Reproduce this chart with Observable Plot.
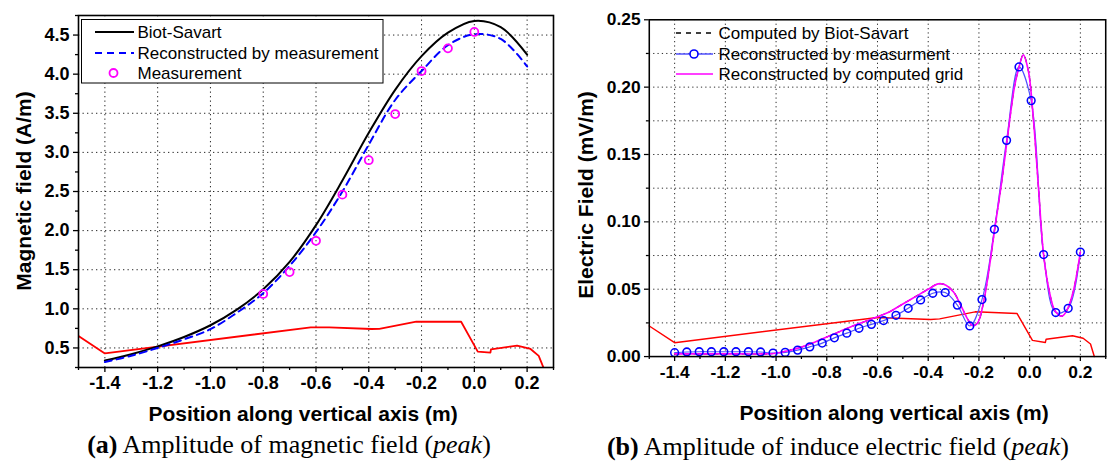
<!DOCTYPE html>
<html><head><meta charset="utf-8">
<script src="https://cdn.jsdelivr.net/npm/d3@7"></script>
<script src="https://cdn.jsdelivr.net/npm/@observablehq/plot@0.6"></script>
<style>
body{margin:0;background:#fff;}
#wrap{position:relative;width:1112px;height:466px;overflow:hidden;background:#fff;font-family:"Liberation Sans",Arial,sans-serif;color:#000;}
.pl{position:absolute;top:0;}
.pl svg text{font-weight:bold;}
.ttl{position:absolute;font-weight:bold;font-size:21px;white-space:nowrap;transform:translate(-50%,-50%);}
.yttl{position:absolute;font-weight:bold;font-size:21px;white-space:nowrap;transform:translate(-50%,-50%) rotate(-90deg);}
.cap{position:absolute;font-family:"Liberation Serif","Times New Roman",serif;font-size:26px;white-space:nowrap;transform:translate(-50%,-50%);}
.leg{position:absolute;left:0;top:0;pointer-events:none;}
.leg text{font-family:"Liberation Sans",Arial,sans-serif;font-size:17px;}
</style>
</head><body>
<div id="wrap">
  <div id="pa" class="pl" style="left:0px"></div>
  <div id="pb" class="pl" style="left:560px"></div>
  <div class="yttl" style="left:24px;top:191px">Magnetic field (A/m)</div>
  <div class="yttl" style="left:586px;top:195px">Electric Field (mV/m)</div>
  <div class="ttl" style="left:303px;top:414px">Position along vertical axis (m)</div>
  <div class="ttl" style="left:894px;top:413px">Position along vertical axis (m)</div>
  <div class="cap" style="left:289px;top:445px"><b>(a)</b> Amplitude of magnetic field (<i>peak</i>)</div>
  <div class="cap" style="left:838px;top:447px"><b>(b)</b> Amplitude of induce electric field (<i>peak</i>)</div>
  <svg class="leg" width="1112" height="466">
    <rect x="81.5" y="19.5" width="301.5" height="63.5" fill="#fff" stroke="#000" stroke-width="1"/>
    <line x1="95" x2="134" y1="32" y2="32" stroke="#000" stroke-width="2"/>
    <text x="137.5" y="38">Biot-Savart</text>
    <line x1="95" x2="134" y1="53" y2="53" stroke="#0000ff" stroke-width="2" stroke-dasharray="7,5"/>
    <text x="137.5" y="59">Reconstructed by measurement</text>
    <circle cx="113.5" cy="73" r="4" fill="none" stroke="#ff00ff" stroke-width="1.8"/>
    <text x="137.5" y="79">Measurement</text>

    <line x1="676" x2="713" y1="33" y2="33" stroke="#000" stroke-width="1.5" stroke-dasharray="5,5"/>
    <text x="718.5" y="39">Computed by Biot-Savart</text>
    <line x1="676" x2="713" y1="54" y2="54" stroke="#5050ff" stroke-width="1.3"/>
    <circle cx="694" cy="54" r="4" fill="#fff" stroke="#0000ff" stroke-width="1.6"/>
    <text x="718.5" y="60">Reconstructed by measurment</text>
    <line x1="676" x2="713" y1="74" y2="74" stroke="#ff00ff" stroke-width="1.6"/>
    <text x="718.5" y="80">Reconstructed by computed grid</text>
  </svg>
</div>
<script>
// ---------- panel (a): magnetic field ----------
const xMajor = [-1.4, -1.2, -1.0, -0.8, -0.6, -0.4, -0.2, 0.0, 0.2];
const xMinor = [-1.5, -1.3, -1.1, -0.9, -0.7, -0.5, -0.3, -0.1, 0.1, 0.3];
const hMajor = [0.5, 1.0, 1.5, 2.0, 2.5, 3.0, 3.5, 4.0, 4.5];
const hMinor = [0.25, 0.75, 1.25, 1.75, 2.25, 2.75, 3.25, 3.75, 4.25, 4.75];

const hPos = [-1.4, -1.3, -1.2, -1.1, -1.0, -0.9, -0.8, -0.7, -0.6, -0.5, -0.4, -0.3, -0.2, -0.1, 0.0, 0.1, 0.2];
const hBiotSavart = [0.34, 0.42, 0.52, 0.64, 0.79, 0.99, 1.25, 1.60, 2.07, 2.64, 3.25, 3.80, 4.23, 4.53, 4.68, 4.60, 4.25];
const hReconstructed = [0.32, 0.40, 0.50, 0.61, 0.74, 0.95, 1.20, 1.55, 1.98, 2.50, 3.10, 3.67, 4.04, 4.37, 4.51, 4.45, 4.10];

const hMeasPos = [-0.8, -0.7, -0.6, -0.5, -0.4, -0.3, -0.2, -0.1, 0.0];
const hMeasured = [1.19, 1.47, 1.87, 2.46, 2.90, 3.49, 4.04, 4.33, 4.54];

const hOutlinePos = [-1.5, -1.4, -0.62, -0.55, -0.39, -0.36, -0.22, -0.05, 0.013, 0.061, 0.063, 0.162, 0.213, 0.244, 0.263];
const hOutline = [0.653, 0.43, 0.764, 0.764, 0.742, 0.745, 0.835, 0.835, 0.453, 0.44, 0.483, 0.53, 0.487, 0.398, 0.24];

// ---------- panel (b): electric field ----------
const eMajor = [0.00, 0.05, 0.10, 0.15, 0.20, 0.25];
const eGrid = [0.025, 0.05, 0.075, 0.10, 0.125, 0.15, 0.175, 0.20, 0.225];
const eMinor = [0.025, 0.075, 0.125, 0.175, 0.225];

const eMeasPos = [-1.4, -1.352, -1.303, -1.255, -1.206, -1.158, -1.109, -1.061, -1.012, -0.964, -0.915, -0.867, -0.818, -0.770, -0.721, -0.673, -0.624, -0.576, -0.527, -0.479, -0.430, -0.382, -0.333, -0.285, -0.236, -0.188, -0.139, -0.091, -0.042, 0.006, 0.055, 0.103, 0.152, 0.2];
const eMeasured = [0.0029, 0.0034, 0.0036, 0.0036, 0.0036, 0.0036, 0.0036, 0.0034, 0.0026, 0.0031, 0.0048, 0.0072, 0.0100, 0.0139, 0.0174, 0.0210, 0.0239, 0.0267, 0.0306, 0.0358, 0.0420, 0.0470, 0.0475, 0.0382, 0.0227, 0.0423, 0.0945, 0.1605, 0.2150, 0.1900, 0.0757, 0.0327, 0.0358, 0.0776];

const eGridPos = [-1.4, -1.2, -1.05, -1.0, -0.95, -0.9, -0.85, -0.8, -0.75, -0.7, -0.65, -0.6, -0.55, -0.5, -0.45, -0.4, -0.36, -0.33, -0.3, -0.27, -0.245, -0.225, -0.205, -0.18, -0.16, -0.136, -0.11, -0.088, -0.06, -0.043, -0.025, -0.005, 0.014, 0.035, 0.055, 0.077, 0.1, 0.128, 0.15, 0.173, 0.2];
const eComputedGrid = [0.002, 0.002, 0.002, 0.0025, 0.0045, 0.007, 0.0105, 0.0145, 0.0185, 0.0225, 0.026, 0.0295, 0.0335, 0.039, 0.0445, 0.050, 0.054, 0.053, 0.048, 0.0375, 0.028, 0.023, 0.025, 0.042, 0.065, 0.097, 0.13, 0.162, 0.20, 0.214, 0.224, 0.212, 0.178, 0.125, 0.0757, 0.049, 0.034, 0.030, 0.0355, 0.049, 0.0776];
const eBiotSavart = eComputedGrid; // hidden under the magenta curve in the figure

const eOutlinePos = [-1.5, -1.4, -0.6, -0.39, -0.355, -0.215, -0.05, 0.011, 0.062, 0.065, 0.169, 0.211, 0.24, 0.255];
const eOutline = [0.0227, 0.0103, 0.029, 0.0275, 0.028, 0.0332, 0.032, 0.012, 0.0105, 0.0129, 0.0155, 0.0136, 0.0093, 0.0];

const zip = (xs, ys) => xs.map((x, i) => ({x, y: ys[i]}));
const fmt1 = d => d.toFixed(1);
const fmt2 = d => d.toFixed(2);
const grid = {stroke: "#000", strokeOpacity: 0.85, strokeWidth: 1, strokeDasharray: "1.3,3.2"};
const style = {fontFamily: "'Liberation Sans', Arial, sans-serif", background: "transparent", color: "#000", overflow: "visible"};

const plotA = Plot.plot({
  width: 560, height: 425,
  marginLeft: 78, marginRight: 7, marginTop: 15, marginBottom: 58,
  x: {domain: [-1.5, 0.3]},
  y: {domain: [0.25, 4.75]},
  style,
  marks: [
    Plot.gridX(xMajor, grid),
    Plot.gridY(hMajor, grid),
    Plot.line(zip(hOutlinePos, hOutline), {x: "x", y: "y", stroke: "#ff0000", strokeWidth: 1.8, clip: true}),
    Plot.line(zip(hPos, hBiotSavart), {x: "x", y: "y", stroke: "#000", strokeWidth: 2, curve: "catmull-rom"}),
    Plot.line(zip(hPos, hReconstructed), {x: "x", y: "y", stroke: "#0000ff", strokeWidth: 2, strokeDasharray: "7,5", curve: "catmull-rom"}),
    Plot.dot(zip(hMeasPos, hMeasured), {x: "x", y: "y", r: 4, stroke: "#ff00ff", strokeWidth: 1.8, fill: "none"}),
    Plot.axisX(xMajor, {tickSize: 5, tickPadding: 4, fontSize: 18, fontWeight: "bold", tickFormat: fmt1, label: null, strokeWidth: 1.3}),
    Plot.axisX(xMinor, {tickSize: 3, tickFormat: () => "", label: null, strokeWidth: 1.3}),
    Plot.axisY(hMajor, {tickSize: 5, tickPadding: 4, fontSize: 18, fontWeight: "bold", tickFormat: fmt1, label: null, strokeWidth: 1.3}),
    Plot.axisY(hMinor, {tickSize: 3, tickFormat: () => "", label: null, strokeWidth: 1.3}),
    Plot.frame({stroke: "#000", strokeWidth: 1.6})
  ]
});
document.getElementById("pa").appendChild(plotA);

const plotB = Plot.plot({
  width: 572, height: 425,
  marginLeft: 92, marginRight: 7, marginTop: 20, marginBottom: 56,
  x: {domain: [-1.5, 0.3]},
  y: {domain: [0, 0.25]},
  style,
  marks: [
    Plot.gridX(xMajor, grid),
    Plot.gridY(eGrid, grid),
    Plot.line(zip(eOutlinePos, eOutline), {x: "x", y: "y", stroke: "#ff0000", strokeWidth: 1.5}),
    Plot.line(zip(eGridPos, eBiotSavart), {x: "x", y: "y", stroke: "#000", strokeWidth: 1.2, strokeDasharray: "5,5", curve: "catmull-rom"}),
    Plot.line(zip(eMeasPos, eMeasured), {x: "x", y: "y", stroke: "#5050ff", strokeWidth: 1.2, curve: "catmull-rom"}),
    Plot.line(zip(eGridPos, eComputedGrid), {x: "x", y: "y", stroke: "#ff00ff", strokeWidth: 1.7, curve: "catmull-rom"}),
    Plot.dot(zip(eMeasPos, eMeasured), {x: "x", y: "y", r: 4, stroke: "#0000ff", strokeWidth: 1.6, fill: "none"}),
    Plot.axisX(xMajor, {tickSize: 5, tickPadding: 4, fontSize: 18, fontWeight: "bold", tickFormat: fmt1, label: null, strokeWidth: 1.3}),
    Plot.axisX(xMinor, {tickSize: 3, tickFormat: () => "", label: null, strokeWidth: 1.3}),
    Plot.axisY(eMajor, {tickSize: 5, tickPadding: 4, fontSize: 18, fontWeight: "bold", tickFormat: fmt2, label: null, strokeWidth: 1.3}),
    Plot.axisY(eMinor, {tickSize: 3, tickFormat: () => "", label: null, strokeWidth: 1.3}),
    Plot.frame({stroke: "#000", strokeWidth: 1.6})
  ]
});
document.getElementById("pb").appendChild(plotB);
</script>
</body></html>
